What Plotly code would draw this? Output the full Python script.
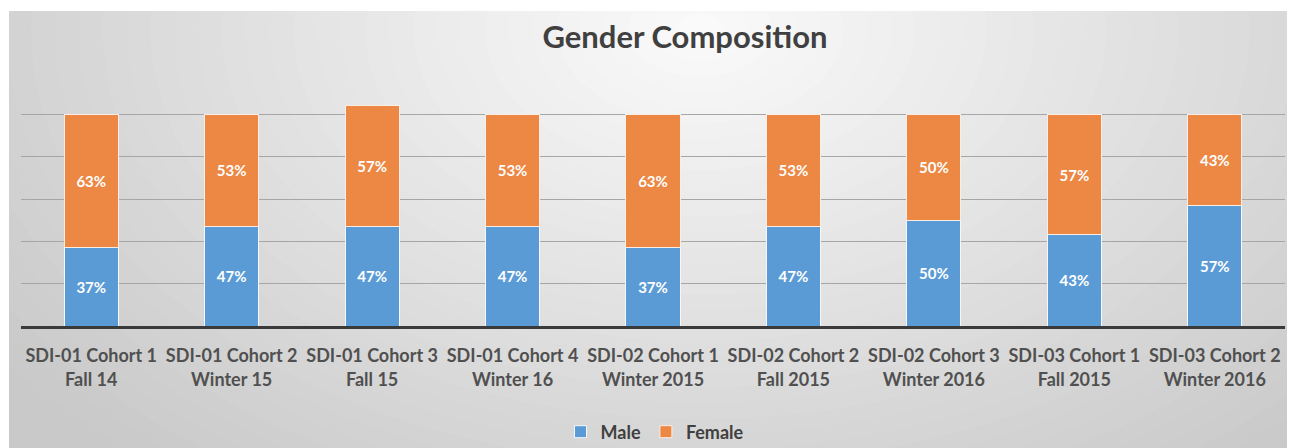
import plotly.graph_objects as go

categories = [
    "SDI-01 Cohort 1<br>Fall 14",
    "SDI-01 Cohort 2<br>Winter 15",
    "SDI-01 Cohort 3<br>Fall 15",
    "SDI-01 Cohort 4<br>Winter 16",
    "SDI-02 Cohort 1<br>Winter 2015",
    "SDI-02 Cohort 2<br>Fall 2015",
    "SDI-02 Cohort 3<br>Winter 2016",
    "SDI-03 Cohort 1<br>Fall 2015",
    "SDI-03 Cohort 2<br>Winter 2016",
]
male = [37, 47, 47, 47, 37, 47, 50, 43, 57]
female = [63, 53, 57, 53, 63, 53, 50, 57, 43]

# page body has an 8px default margin: design in reference pixels, shifted by OFF
OFF = 8
W, H = 1295 - OFF, 448 - OFF
# reference pixel positions of plot area
PX0, PX1, PY0, PY1 = 21, 1285, 72, 326
L, R, T = PX0 - OFF, W - (PX1 - OFF), PY0 - OFF
B = H - (PY1 - OFF)
PW, PH = W - L - R, H - T - B

def px(x):  # reference x pixel -> paper
    return (x - PX0) / PW

def py(y):  # reference y pixel -> paper
    return (PY1 - y) / PH

def cx_(x):  # reference x pixel -> container fraction
    return (x - OFF) / W

def cy_(y):
    return 1 - (y - OFF) / H

FONT = "Lato"

fig = go.Figure()
fig.add_trace(go.Bar(
    x=categories, y=male, name="Male",
    marker=dict(color="#5B9BD5", line=dict(color="#f4f8fc", width=1)),
    text=[f"{v}%" for v in male], textposition="inside", insidetextanchor="middle",
    textfont=dict(color="white", size=15, family=FONT, weight="bold"),
))
fig.add_trace(go.Bar(
    x=categories, y=female, name="Female",
    marker=dict(color="#EC8744", line=dict(color="#fbeee4", width=1)),
    text=[f"{v}%" for v in female], textposition="inside", insidetextanchor="middle",
    textfont=dict(color="white", size=15, family=FONT, weight="bold"),
))

# background: radial-ish gradient approximated with layered ellipses
shapes = [dict(type="rect", xref="paper", yref="paper", layer="below",
               x0=px(9), x1=px(1300), y0=py(455), y1=py(11),
               fillcolor="#c9c9c9", line=dict(width=0))]
steps = 36
gx, gy = 700, 30
for i in range(steps):
    f = 1 - i / steps
    rx, ry = 860 * f, 560 * f
    g = int(0xc9 + (0xfa - 0xc9) * (i + 1) / steps)
    col = f"rgb({g},{g},{g})"
    shapes.append(dict(type="circle", xref="paper", yref="paper", layer="below",
                       x0=px(gx - rx), x1=px(gx + rx), y0=py(gy + ry), y1=py(gy - ry),
                       fillcolor=col, line=dict(width=0)))
# white border over top/left
shapes.append(dict(type="rect", xref="paper", yref="paper", layer="below",
                   x0=px(0), x1=px(1300), y0=py(11), y1=py(0),
                   fillcolor="white", line=dict(width=0)))
shapes.append(dict(type="rect", xref="paper", yref="paper", layer="below",
                   x0=px(0), x1=px(9), y0=py(455), y1=py(0),
                   fillcolor="white", line=dict(width=0)))

fig.update_layout(
    width=W, height=H,
    margin=dict(l=L, r=R, t=T, b=B, autoexpand=False),
    barmode="stack", bargap=0.615,
    paper_bgcolor="white", plot_bgcolor="rgba(0,0,0,0)",
    shapes=shapes,
    title=dict(text="<b>Gender Composition</b>", x=cx_(685), xref="container", xanchor="center",
               y=cy_(37), yref="container", yanchor="middle",
               font=dict(family=FONT, size=31, color="#404040")),
    xaxis=dict(showline=True, linecolor="#3a3a3a", linewidth=2.5, ticks="",
               tickfont=dict(family=FONT, size=18, color="#505050", weight="bold"),
               ticklabelstandoff=12, automargin=False, fixedrange=True),
    yaxis=dict(range=[0, 120], dtick=20, showticklabels=False, showgrid=True,
               gridcolor="#a6a6a6", gridwidth=1, zeroline=False, automargin=False,
               fixedrange=True),
    legend=dict(orientation="h", x=cx_(655), xref="container", xanchor="center",
                y=cy_(432), yref="container", yanchor="middle",
                font=dict(family=FONT, size=18, color="#404040", weight="bold"),
                bgcolor="rgba(0,0,0,0)", itemwidth=30, traceorder="normal"),
    showlegend=True,
)

fig.write_html("out.html")
